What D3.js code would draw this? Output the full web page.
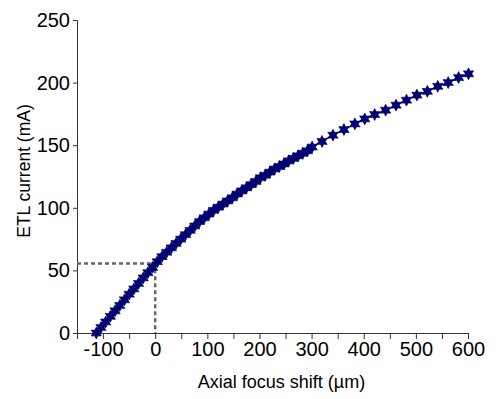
<!DOCTYPE html>
<html>
<head>
<meta charset="utf-8">
<script src="https://cdn.jsdelivr.net/npm/d3@7"></script>
<style>
  body { margin: 0; background: #fff; }
  text { font-family: "Liberation Sans", Arial, sans-serif; }
</style>
</head>
<body>
<div id="chart"></div>
<script>
/* ETL current vs axial focus shift */

const focusShift = [-113, -104, -95, -86, -77, -68, -59, -50, -41, -32, -23, -14, -5, 4, 13, 22, 31, 40, 49, 58,
  67, 76, 85, 94, 103, 112, 121, 130, 139, 148, 157, 166, 175, 184, 193, 202, 211, 220, 229, 238,
  247, 256, 265, 274, 283, 292, 301, 320, 341, 362, 383, 402, 421, 442, 462, 482, 502, 522, 542, 562, 582, 601];
const etlCurrent = [0, 4.4, 8.8, 13.3, 17.7, 22, 26.5, 31, 35.2, 39.6, 44, 48.2, 52.5, 57, 61, 64.5, 68, 71.5, 75, 78.5,
  82, 85.5, 89, 92, 95, 98, 100.5, 103, 105.5, 108, 111, 113.5, 116, 118.5, 121, 124, 126, 128.5, 131, 133,
  135, 137.5, 139.5, 141.5, 143.5, 145.5, 148.5, 153, 158, 162.5, 167, 171, 174.5, 178, 182, 186, 190, 193, 197, 200, 204, 207];

const xTicks = [-150, -100, -50, 0, 50, 100, 150, 200, 250, 300, 350, 400, 450, 500, 550, 600];
const xLabels = [-100, 0, 100, 200, 300, 400, 500, 600];
const yTicks = [0, 50, 100, 150, 200, 250];
const refPoint = [0, 55.5];

const data = focusShift.map((d, i) => ({ x: d, y: etlCurrent[i] }));

const width = 497, height = 399;

const xScale = d3.scaleLinear().domain([-150, 600]).range([77, 468]);
const yScale = d3.scaleLinear().domain([0, 250]).range([333, 20]);

const svg = d3.select('#chart')
  .append('svg')
  .attr('width', width)
  .attr('height', height);

// y axis
const yAxis = svg.append('g')
  .attr('transform', `translate(${xScale(-150)},0)`)
  .call(d3.axisLeft(yScale).tickValues(yTicks).tickSize(4).tickPadding(3));
yAxis.selectAll('text').style('font-size', '20px').attr('fill', '#000');

// x axis
const xAxis = svg.append('g')
  .attr('transform', `translate(0,${yScale(0)})`)
  .call(d3.axisBottom(xScale).tickValues(xTicks).tickSize(6).tickPadding(3)
    .tickFormat(d => xLabels.includes(d) ? d : ''));
xAxis.selectAll('text').style('font-size', '20px').attr('fill', '#000');

svg.selectAll('.domain').attr('stroke', '#333');
svg.selectAll('.tick line').attr('stroke', '#333');

// axis titles
svg.append('text')
  .attr('x', 281.5)
  .attr('y', 388)
  .attr('text-anchor', 'middle')
  .attr('fill', '#000')
  .style('font-size', '18px')
  .text('Axial focus shift (\u00b5m)');

svg.append('text')
  .attr('transform', 'translate(30,171) rotate(-90)')
  .attr('text-anchor', 'middle')
  .attr('fill', '#000')
  .style('font-size', '17.5px')
  .text('ETL current (mA)');

// dotted guide lines
svg.append('path')
  .attr('fill', 'none')
  .attr('stroke', '#666')
  .attr('stroke-width', 2.5)
  .attr('stroke-dasharray', '4,3')
  .attr('d', d3.line()([
    [xScale(-150), yScale(refPoint[1])],
    [xScale(refPoint[0]), yScale(refPoint[1])],
    [xScale(refPoint[0]), yScale(0)]
  ]));

// connecting line
const line = d3.line()
  .x(d => xScale(d.x))
  .y(d => yScale(d.y));

svg.append('path')
  .datum(data)
  .attr('fill', 'none')
  .attr('stroke', '#111')
  .attr('stroke-width', 1.5)
  .attr('d', line);

// six pointed star marker
const star6 = {
  draw(context, size) {
    const r = Math.sqrt(size) * 0.75;
    for (let i = 0; i < 12; i++) {
      const a = -Math.PI / 2 + i * Math.PI / 6;
      const rr = i % 2 === 0 ? r : r * 0.55;
      const px = rr * Math.cos(a), py = rr * Math.sin(a);
      if (i === 0) context.moveTo(px, py); else context.lineTo(px, py);
    }
    context.closePath();
  }
};

svg.append('g')
  .selectAll('path')
  .data(data)
  .join('path')
  .attr('transform', d => `translate(${xScale(d.x)},${yScale(d.y)})`)
  .attr('d', d3.symbol().type(star6).size(64))
  .attr('fill', '#00007a')
  .attr('stroke', '#000050')
  .attr('stroke-width', 0.6);
</script>
</body>
</html>
